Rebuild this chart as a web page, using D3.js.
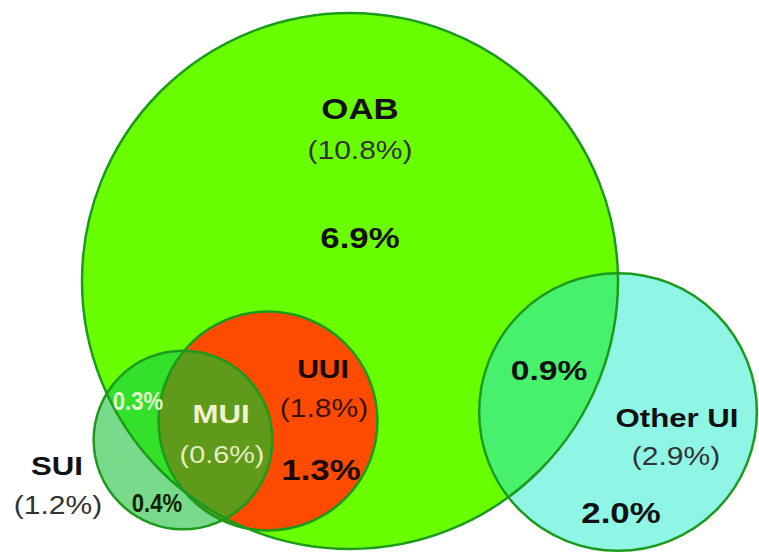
<!DOCTYPE html>
<html>
<head>
<meta charset="utf-8">
<script src="https://cdn.jsdelivr.net/npm/d3@7.9.0/dist/d3.min.js"></script>
<style>
  html, body { margin: 0; padding: 0; background: #fff; }
  svg { display: block; }
  text { font-family: "Liberation Sans", Arial, sans-serif; }
</style>
</head>
<body>
<svg id="chart" width="759" height="553"></svg>
<script>
// set sizes (% prevalence)
const setNames = ['OAB', 'UUI', 'SUI', 'Other UI'];
const setTotals = [10.8, 1.8, 1.2, 2.9];
// region values
const regionNames = ['OAB only', 'UUI only', 'SUI only', 'MUI', 'SUI & OAB', 'OAB & Other', 'Other only'];
const regionValues = [6.9, 1.3, 0.4, 0.6, 0.3, 0.9, 2.0];

// layout of the circle centres (pixels)
const centres = {
  'OAB': [350, 281],
  'UUI': [268, 421],
  'SUI': [183, 440],
  'Other UI': [618, 412]
};

const svg = d3.select('#chart');
const r = d3.scaleSqrt().domain([0, 10.8]).range([0, 268]);

const circles = setNames.map((name, i) => ({
  name, total: setTotals[i], cx: centres[name][0], cy: centres[name][1], r: r(setTotals[i])
}));
const byName = Object.fromEntries(circles.map(c => [c.name, c]));

const defs = svg.append('defs');
circles.forEach((c, i) => {
  defs.append('clipPath').attr('id', 'clip' + i)
    .append('circle').attr('cx', c.cx).attr('cy', c.cy).attr('r', c.r);
});
const clipId = name => `url(#clip${setNames.indexOf(name)})`;

function disc(name, fill, clip) {
  const c = byName[name];
  const el = svg.append('circle')
    .attr('cx', c.cx).attr('cy', c.cy).attr('r', c.r)
    .attr('fill', fill);
  if (clip) el.attr('clip-path', clipId(clip));
}

disc('OAB', '#6aff00');
disc('Other UI', '#8ff6e6');
disc('Other UI', '#47f16c', 'OAB');
disc('SUI', '#78da8a');
disc('SUI', '#33e02a', 'OAB');
disc('UUI', '#ff4b00');
disc('UUI', '#5f9a1a', 'SUI');

svg.selectAll('circle.edge')
  .data(circles)
  .join('circle')
  .attr('class', 'edge')
  .attr('cx', d => d.cx).attr('cy', d => d.cy).attr('r', d => d.r)
  .attr('fill', 'none')
  .attr('stroke', '#1c9a1c')
  .attr('stroke-width', 2.5);

// labels
const fmt = v => v.toFixed(1) + '%';
const labels = [
  { t: 'OAB', x: 360, y: 119, size: 29, bold: true, fill: '#111' },
  { t: `(${fmt(setTotals[0])})`, x: 360, y: 159, size: 25, bold: false, fill: '#333' },
  { t: fmt(regionValues[0]), x: 360, y: 248, size: 29, bold: true, fill: '#111' },
  { t: 'UUI', x: 323, y: 378, size: 25, bold: true, fill: '#1a0800' },
  { t: `(${fmt(setTotals[1])})`, x: 324, y: 417, size: 25, bold: false, fill: '#3a1000' },
  { t: fmt(regionValues[1]), x: 321, y: 480, size: 29, bold: true, fill: '#1a0800' },
  { t: 'MUI', x: 221, y: 423, size: 26, bold: true, fill: '#f2f2cc' },
  { t: `(${fmt(regionValues[3])})`, x: 222, y: 463, size: 24, bold: false, fill: '#e8ecc0' },
  { t: fmt(regionValues[4]), x: 138, y: 410, size: 26, bold: true, fill: '#e2f8cc', sx: 0.85 },
  { t: fmt(regionValues[2]), x: 157, y: 512, size: 26, bold: true, fill: '#112200', sx: 0.85 },
  { t: 'SUI', x: 57, y: 475, size: 26, bold: true, fill: '#111' },
  { t: `(${fmt(setTotals[2])})`, x: 58, y: 514, size: 25, bold: false, fill: '#333' },
  { t: fmt(regionValues[5]), x: 549, y: 380, size: 28, bold: true, fill: '#111' },
  { t: 'Other UI', x: 677, y: 427, size: 26, bold: true, fill: '#111' },
  { t: `(${fmt(setTotals[3])})`, x: 676, y: 465, size: 25, bold: false, fill: '#333' },
  { t: fmt(regionValues[6]), x: 621, y: 523, size: 29, bold: true, fill: '#111' }
];

svg.selectAll('text.lbl')
  .data(labels)
  .join('text')
  .attr('class', 'lbl')
  .attr('transform', d => `translate(${d.x},${d.y}) scale(${d.sx || 1.2},1)`)
  .attr('text-anchor', 'middle')
  .attr('font-size', d => d.size)
  .attr('font-weight', d => d.bold ? 'bold' : 'normal')
  .attr('fill', d => d.fill)
  .text(d => d.t);
</script>
</body>
</html>
